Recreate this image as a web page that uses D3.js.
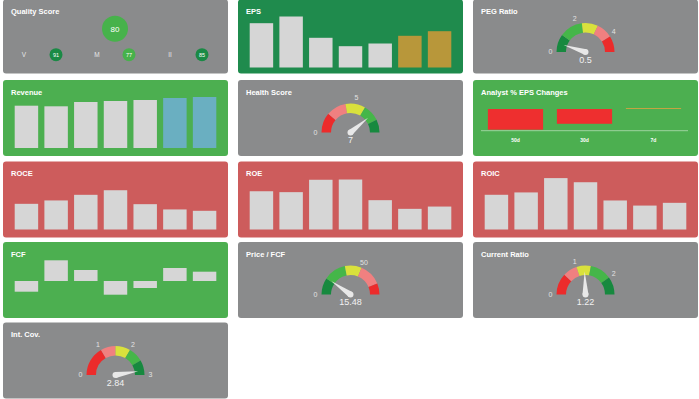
<!DOCTYPE html>
<html>
<head>
<meta charset="utf-8">
<script src="https://cdn.jsdelivr.net/npm/d3@7"></script>
<style>
body { margin: 0; background: #fff; }
svg text { font-family: "Liberation Sans", Arial, sans-serif; }
</style>
</head>
<body>
<div id="dash"></div>
<script>
// quality score
var quality_total = 80;
var quality_labels = ["V", "M", "II"];
var quality_values = [91, 77, 85];

// yearly bars, last two are estimates
var periods = ["2019", "2020", "2021", "2022", "2023", "2024E", "2025E"];
var eps_values = [4.43, 5.10, 2.97, 2.13, 2.40, 3.17, 3.63];
var revenue_values = [42.3, 41.7, 46.0, 47.0, 48.0, 50.0, 51.0];
var roce_values = [15.1, 17.1, 20.4, 23.1, 14.9, 11.8, 11.0];
var roe_values = [30.0, 29.3, 39.0, 39.2, 23.0, 16.2, 18.0];
var roic_values = [17.7, 18.9, 26.2, 24.1, 14.8, 12.2, 13.6];
var fcf_values = [-1.07, 2.07, 1.10, -1.37, -0.70, 1.30, 0.93];

// analyst eps revisions
var revision_periods = ["50d", "30d", "7d"];
var revision_values = [-3.5, -2.5, 0];

// gauges: value, scale max, tick labels, band limits
var peg_value = 0.5, peg_max = 5;
var peg_ticks = [0, 2, 4];
var peg_bands = [0, 1, 2.3, 3.2, 4.1, 5];
var health_value = 7, health_max = 9;
var health_ticks = [0, 5];
var health_bands = [0, 2, 4, 6, 7.7, 9];
var pfcf_value = 15.48, pfcf_max = 80;
var pfcf_ticks = [0, 50];
var pfcf_bands = [0, 15, 35, 50, 70, 80];
var cr_value = 1.22, cr_max = 2.5;
var cr_ticks = [0, 1, 2];
var cr_bands = [0, 0.6, 1.0, 1.4, 2.0, 2.5];
var ic_value = 2.84, ic_max = 3;
var ic_ticks = [0, 1, 2, 3];
var ic_bands = [0, 1, 1.5, 2, 2.5, 3];

// colours
var GREY = "#8a8b8c", DKGREEN_BG = "#1f8b4d", GREEN_BG = "#4caf50", RED_BG = "#cd5c5c";
var BAR = "#d6d6d6";
var good_to_bad = ["#17893f", "#45b649", "#d9e13c", "#f08080", "#ec2b2b"];
var bad_to_good = good_to_bad.slice().reverse();

var W = 699, H = 399;
var col_x = [3, 238, 473], panel_w = 225;
var row_y = [-0.5, 80, 161.5, 242, 322.5], row_h = [74, 76, 76, 76, 76];

var svg = d3.select("#dash").append("svg")
    .attr("width", W)
    .attr("height", H);

function panel(col, row, color, title) {
    var g = svg.append("g")
        .attr("transform", "translate(" + col_x[col] + "," + row_y[row] + ")");
    g.append("rect")
        .attr("width", panel_w)
        .attr("height", row_h[row])
        .attr("rx", 3)
        .attr("fill", color);
    g.append("text")
        .attr("x", 8)
        .attr("y", 14.5)
        .attr("fill", "#fff")
        .attr("font-size", 7.5)
        .attr("font-weight", 600)
        .text(title);
    return g;
}

function bar_panel(col, row, color, title, values, domain, colors) {
    var g = panel(col, row, color, title);
    var x = d3.scaleBand()
        .domain(periods)
        .range([11.7, panel_w - 11.7])
        .paddingInner(0.21)
        .paddingOuter(0);
    var y = d3.scaleLinear().domain(domain).range([68, 17]);
    g.selectAll("rect.bar")
        .data(values)
        .enter().append("rect")
        .attr("class", "bar")
        .attr("x", function (d, i) { return x(periods[i]); })
        .attr("width", x.bandwidth())
        .attr("y", function (d) { return Math.min(y(d), y(0)); })
        .attr("height", function (d) { return Math.abs(y(d) - y(0)); })
        .attr("fill", function (d, i) { return colors ? colors[i] : BAR; });
}

function gauge_panel(col, row, title, value, max, ticks, bands, colors) {
    var g = panel(col, row, GREY, title);
    var cx = panel_w / 2, cy = 52.5;
    var a = d3.scaleLinear().domain([0, max]).range([-Math.PI / 2, Math.PI / 2]);
    var arc = d3.arc().innerRadius(19.5).outerRadius(29);
    var gg = g.append("g").attr("transform", "translate(" + cx + "," + cy + ")");
    gg.selectAll("path.band")
        .data(d3.range(bands.length - 1))
        .enter().append("path")
        .attr("class", "band")
        .attr("d", function (i) {
            return arc({ startAngle: a(bands[i]), endAngle: a(bands[i + 1]) });
        })
        .attr("fill", function (i) { return colors[i]; });
    gg.selectAll("text.tick")
        .data(ticks)
        .enter().append("text")
        .attr("class", "tick")
        .attr("x", function (d) { return 35 * Math.sin(a(d)); })
        .attr("y", function (d) { return -35 * Math.cos(a(d)); })
        .attr("dy", "0.35em")
        .attr("text-anchor", "middle")
        .attr("fill", "#e2e2e2")
        .attr("font-size", 7)
        .text(function (d) { return d; });
    // needle
    var t = a(value), len = 23, hw = 3;
    var tip = [len * Math.sin(t), -len * Math.cos(t)];
    var p1 = [hw * Math.cos(t), hw * Math.sin(t)];
    var p2 = [-hw * Math.cos(t), -hw * Math.sin(t)];
    gg.append("path")
        .attr("d", "M" + p1 + "L" + tip + "L" + p2 + "Z")
        .attr("fill", "#e8e8e8");
    gg.append("circle").attr("r", hw).attr("fill", "#e8e8e8");
    gg.append("text")
        .attr("y", 10.5)
        .attr("text-anchor", "middle")
        .attr("fill", "#f2f2f2")
        .attr("font-size", 9)
        .text(value);
}

// Quality Score
(function () {
    var g = panel(0, 0, GREY, "Quality Score");
    var shade = function (v) { return v >= 85 ? "#1a8a45" : "#47b24b"; };
    g.append("circle").attr("cx", 112).attr("cy", 29.3).attr("r", 13).attr("fill", shade(quality_total));
    g.append("text").attr("x", 112).attr("y", 29.3).attr("dy", "0.35em")
        .attr("text-anchor", "middle").attr("fill", "#fff").attr("font-size", 8)
        .text(quality_total);
    var x = d3.scalePoint().domain(quality_labels).range([21, 167]);
    var items = g.selectAll("g.q")
        .data(quality_labels)
        .enter().append("g")
        .attr("class", "q")
        .attr("transform", function (d) { return "translate(" + x(d) + ",55.2)"; });
    items.append("text")
        .attr("dy", "0.35em").attr("text-anchor", "middle")
        .attr("fill", "#e6e6e6").attr("font-size", 6.5)
        .text(function (d) { return d; });
    items.append("circle")
        .attr("cx", 32).attr("r", 6.5)
        .attr("fill", function (d, i) { return shade(quality_values[i]); });
    items.append("text")
        .attr("x", 32).attr("dy", "0.35em").attr("text-anchor", "middle")
        .attr("fill", "#fff").attr("font-size", 5.5)
        .text(function (d, i) { return quality_values[i]; });
})();

var est_gold = ["", "", "", "", "", "#b8973a", "#b8973a"].map(function (c) { return c || BAR; });
var est_blue = ["", "", "", "", "", "#6aafc1", "#6aafc1"].map(function (c) { return c || BAR; });

bar_panel(1, 0, DKGREEN_BG, "EPS", eps_values, [0, 5.1], est_gold);
gauge_panel(2, 0, "PEG Ratio", peg_value, peg_max, peg_ticks, peg_bands, good_to_bad);

bar_panel(0, 1, GREEN_BG, "Revenue", revenue_values, [0, 51], est_blue);
gauge_panel(1, 1, "Health Score", health_value, health_max, health_ticks, health_bands, bad_to_good);

// Analyst % EPS Changes
(function () {
    var g = panel(2, 1, GREEN_BG, "Analyst % EPS Changes");
    var x = d3.scaleBand().domain(revision_periods).range([8, 215])
        .paddingInner(0.2).paddingOuter(0.1);
    var y = d3.scaleLinear().domain([-3.5, 0]).range([49.7, 29]);
    g.selectAll("rect.rev")
        .data(revision_values)
        .enter().append("rect")
        .attr("class", "rev")
        .attr("x", function (d, i) { return x(revision_periods[i]); })
        .attr("width", x.bandwidth())
        .attr("y", y(0))
        .attr("height", function (d) { return y(d) - y(0); })
        .attr("fill", "#ee2f2f");
    g.selectAll("line.zero")
        .data(revision_values.filter(function (d) { return d === 0; }))
        .enter().append("line")
        .attr("class", "zero")
        .attr("x1", x("7d")).attr("x2", x("7d") + x.bandwidth())
        .attr("y1", y(0) - 0.5).attr("y2", y(0) - 0.5)
        .attr("stroke", "#c4a443").attr("stroke-width", 1);
    g.append("line")
        .attr("x1", 8).attr("x2", 215)
        .attr("y1", 50.7).attr("y2", 50.7)
        .attr("stroke", "rgba(255,255,255,0.45)");
    g.selectAll("text.lab")
        .data(revision_periods)
        .enter().append("text")
        .attr("class", "lab")
        .attr("x", function (d) { return x(d) + x.bandwidth() / 2; })
        .attr("y", 61.5)
        .attr("text-anchor", "middle")
        .attr("fill", "#fff").attr("font-size", 5).attr("font-weight", 700)
        .text(function (d) { return d; });
})();

bar_panel(0, 2, RED_BG, "ROCE", roce_values, [0, 30]);
bar_panel(1, 2, RED_BG, "ROE", roe_values, [0, 40]);
bar_panel(2, 2, RED_BG, "ROIC", roic_values, [0, 26]);

bar_panel(0, 3, GREEN_BG, "FCF", fcf_values, [-2.9, 2.2]);
gauge_panel(1, 3, "Price / FCF", pfcf_value, pfcf_max, pfcf_ticks, pfcf_bands, good_to_bad);
gauge_panel(2, 3, "Current Ratio", cr_value, cr_max, cr_ticks, cr_bands, bad_to_good);

gauge_panel(0, 4, "Int. Cov.", ic_value, ic_max, ic_ticks, ic_bands, bad_to_good);
</script>
</body>
</html>
